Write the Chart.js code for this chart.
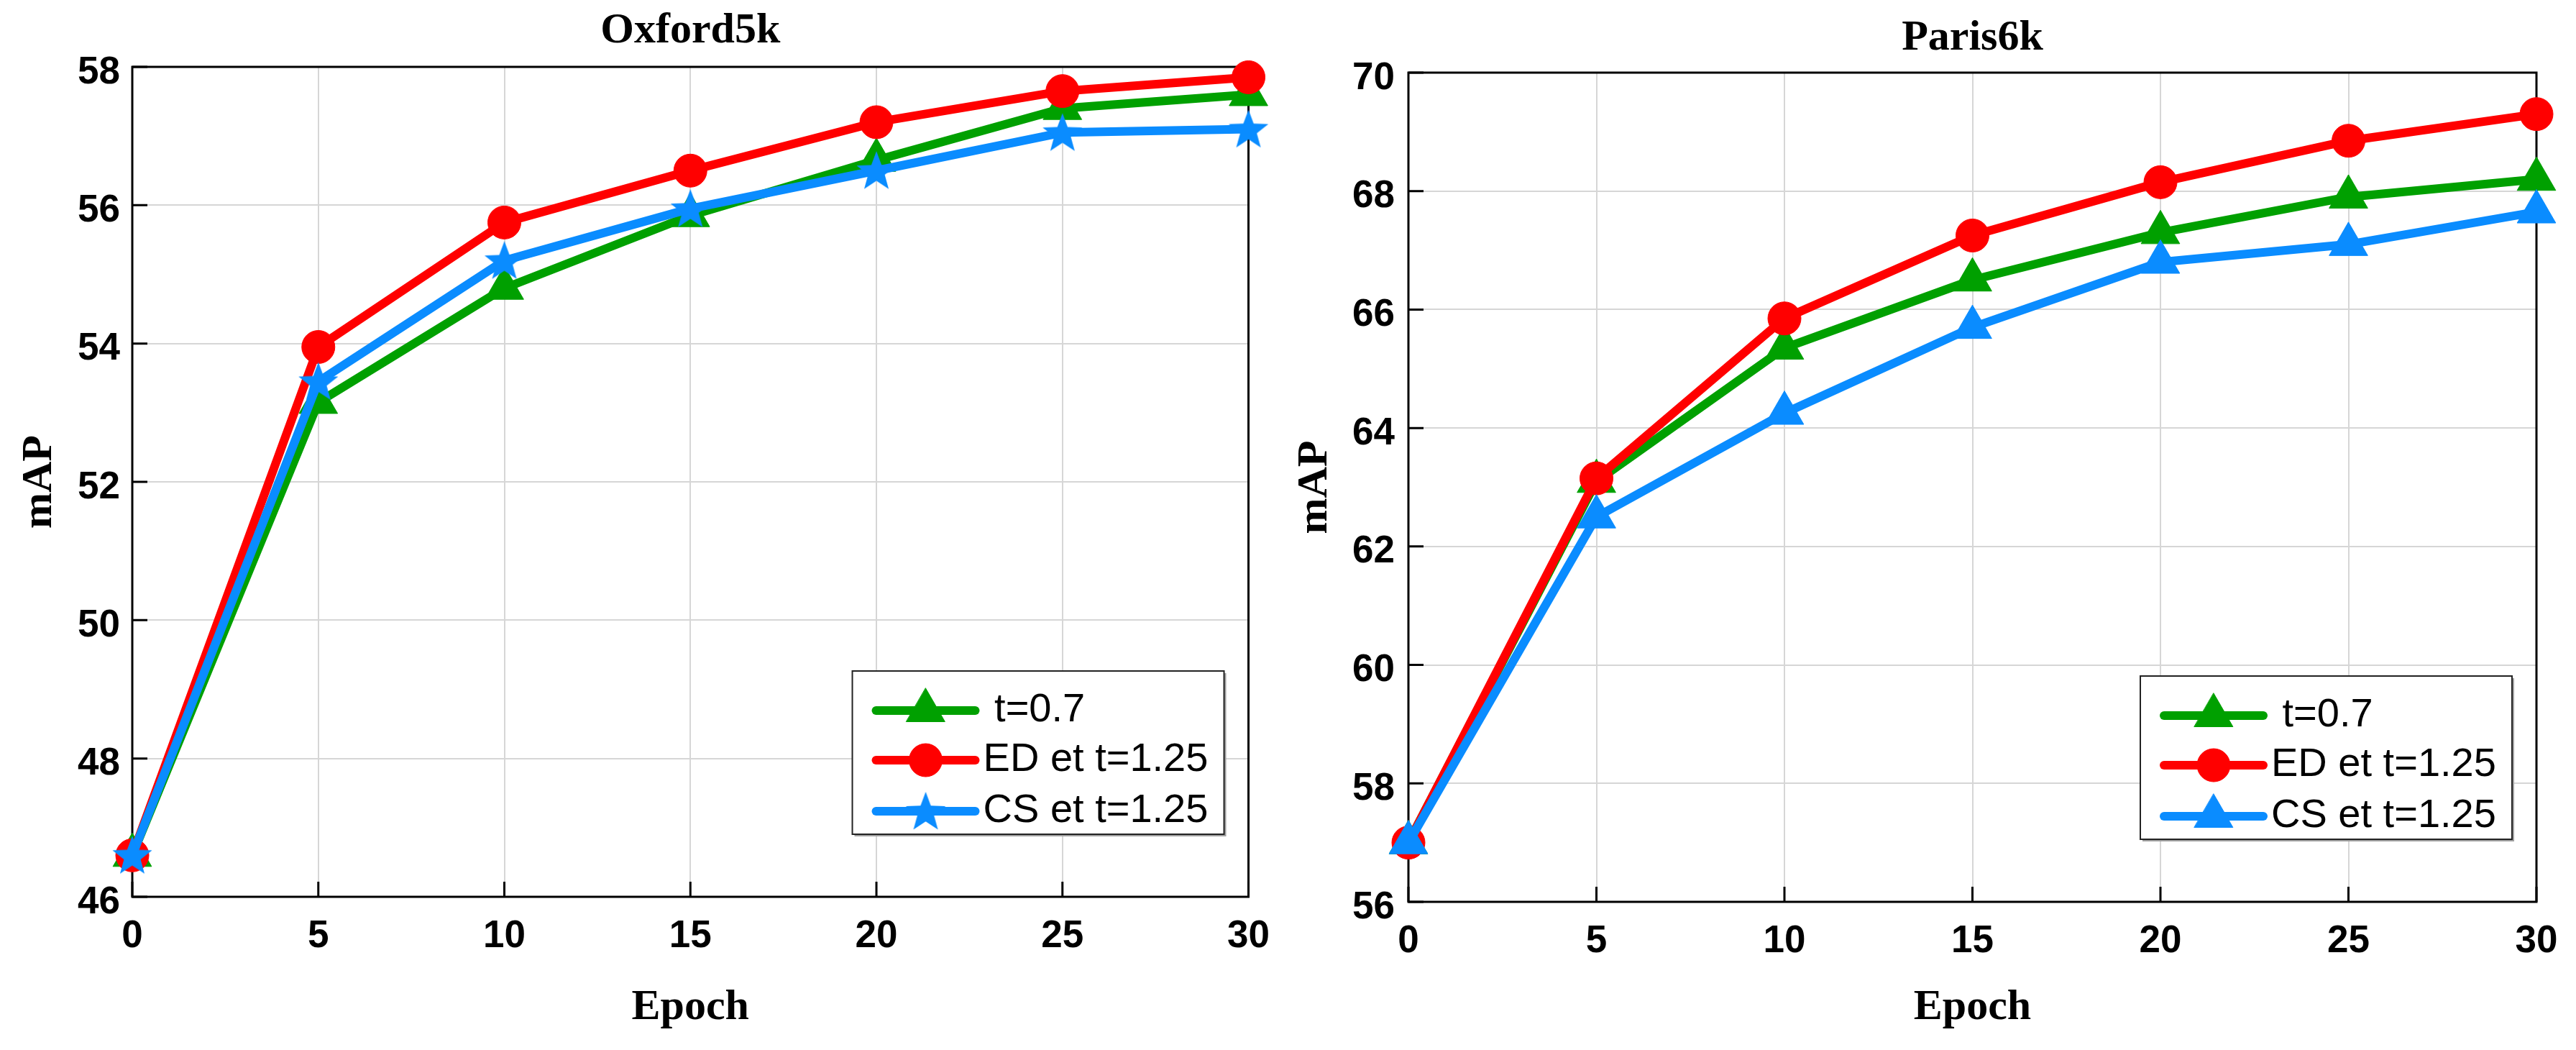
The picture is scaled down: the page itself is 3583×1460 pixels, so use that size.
<!DOCTYPE html>
<html>
<head>
<meta charset="utf-8">
<script src="https://cdn.jsdelivr.net/npm/chart.js@4.4.1/dist/chart.umd.min.js"></script>
<style>
html, body { margin: 0; padding: 0; background: #fff; }
#wrap { position: relative; width: 3583px; height: 1460px; overflow: hidden; background: #fff; }
canvas { position: absolute; top: 0; }
#oxford { left: 0; }
#paris { left: 1790px; }
</style>
</head>
<body>
<div id="wrap">
  <canvas id="oxford" width="1790" height="1460"></canvas>
  <canvas id="paris" width="1793" height="1460"></canvas>
</div>
<script>
// values
const epochs = [0, 5, 10, 15, 20, 25, 30];
const seriesNames = [' t=0.7', 'ED et t=1.25', 'CS et t=1.25'];

const oxfordT07 = [46.6, 53.15, 54.8, 55.85, 56.65, 57.4, 57.6];
const oxfordED  = [46.6, 53.95, 55.75, 56.5, 57.2, 57.65, 57.85];
const oxfordCS  = [46.6, 53.45, 55.2, 55.95, 56.5, 57.05, 57.1];

const parisT07 = [57.0, 63.1, 65.35, 66.5, 67.3, 67.9, 68.2];
const parisED  = [57.0, 63.15, 65.85, 67.25, 68.15, 68.85, 69.3];
const parisCS  = [57.0, 62.5, 64.25, 65.7, 66.8, 67.1, 67.65];

const GREEN = '#00a000';
const RED = '#ff0000';
const BLUE = '#0a8cff';

Chart.defaults.font.family = '"Liberation Sans", Arial, sans-serif';
Chart.defaults.color = '#000';

// filled five point star, used as a point style
function makeStar(color, outer) {
  const c = document.createElement('canvas');
  const size = Math.ceil(outer * 2 + 4);
  c.width = size;
  c.height = size;
  const g = c.getContext('2d');
  const cx = size / 2, cy = size / 2 + 2, inner = outer * 0.42;
  g.beginPath();
  for (let i = 0; i < 10; i++) {
    const r = i % 2 ? inner : outer;
    const a = -Math.PI / 2 + i * Math.PI / 5;
    g.lineTo(cx + r * Math.cos(a), cy + r * Math.sin(a));
  }
  g.closePath();
  g.fillStyle = color;
  g.fill();
  return c;
}

function series(label, values, color, style, radius, order) {
  return {
    label: label,
    order: order,
    data: epochs.map((e, i) => ({ x: e, y: values[i] })),
    borderColor: color,
    backgroundColor: color,
    borderWidth: 12,
    borderJoinStyle: 'round',
    borderCapStyle: 'round',
    pointStyle: style,
    pointRadius: radius,
    pointHoverRadius: radius,
    pointBorderWidth: 1,
    pointBorderColor: color,
    pointBackgroundColor: color,
    tension: 0,
    clip: false
  };
}

// black box round the plot, with the small inner ticks
const framePlugin = {
  id: 'frame',
  beforeDatasetsDraw(chart) {
    const { ctx, chartArea: a, scales: { x, y } } = chart;
    ctx.save();
    ctx.strokeStyle = '#000';
    ctx.lineWidth = 3;
    ctx.strokeRect(a.left, a.top, a.right - a.left, a.bottom - a.top);
    ctx.beginPath();
    x.ticks.forEach(t => {
      const px = x.getPixelForValue(t.value);
      ctx.moveTo(px, a.bottom);
      ctx.lineTo(px, a.bottom - 21);
    });
    y.ticks.forEach(t => {
      const py = y.getPixelForValue(t.value);
      ctx.moveTo(a.left, py);
      ctx.lineTo(a.left + 21, py);
    });
    ctx.stroke();
    ctx.restore();
  }
};

// boxed legend in the lower right corner of the plot
const boxLegend = {
  id: 'boxLegend',
  afterDraw(chart) {
    const { ctx, chartArea: a } = chart;
    const w = 517, h = 227;
    const left = a.right - 34 - w;
    const top = a.bottom - 87 - h;
    ctx.save();
    ctx.fillStyle = '#a0a0a0';
    ctx.fillRect(left + 3, top + 3, w, h);
    ctx.fillStyle = '#fff';
    ctx.fillRect(left, top, w, h);
    ctx.strokeStyle = '#222';
    ctx.lineWidth = 2;
    ctx.strokeRect(left, top, w, h);

    const rows = [55, 124, 195];
    chart.data.datasets.forEach((ds, i) => {
      const cy = top + rows[i];
      ctx.strokeStyle = ds.borderColor;
      ctx.lineWidth = 12;
      ctx.lineCap = 'round';
      ctx.beginPath();
      ctx.moveTo(left + 33, cy);
      ctx.lineTo(left + 171, cy);
      ctx.stroke();

      ctx.fillStyle = ds.pointBackgroundColor;
      ctx.strokeStyle = ds.pointBorderColor;
      ctx.lineWidth = 1;
      Chart.helpers.drawPoint(ctx, {
        pointStyle: ds.pointStyle,
        radius: ds.pointRadius,
        borderWidth: 1,
        rotation: 0
      }, left + 102, cy);

      ctx.fillStyle = '#000';
      ctx.font = '56px "Liberation Sans", Arial, sans-serif';
      ctx.textAlign = 'left';
      ctx.textBaseline = 'middle';
      ctx.fillText(ds.label, left + 182, cy);
    });
    ctx.restore();
  }
};

const tickFont = { family: '"Liberation Sans", Arial, sans-serif', size: 53, weight: 'bold' };
const titleFont = { family: '"Liberation Serif", "Times New Roman", serif', size: 60, weight: 'bold' };

function makeChart(id, title, datasets, yMin, yMax, box) {
  return new Chart(document.getElementById(id), {
    type: 'line',
    data: { datasets: datasets },
    options: {
      responsive: false,
      animation: false,
      devicePixelRatio: 1,
      layout: { padding: { left: 0, right: box.padRight, top: 0, bottom: 0 } },
      plugins: {
        legend: { display: false },
        tooltip: { enabled: false },
        title: {
          display: true,
          text: title,
          color: '#000',
          font: titleFont,
          fullSize: false,
          padding: { top: box.titleTop, bottom: box.titleBottom }
        }
      },
      scales: {
        x: {
          type: 'linear',
          min: 0,
          max: 30,
          ticks: { stepSize: 5, padding: 24, maxRotation: 0, color: '#000', font: tickFont },
          grid: { color: '#d6d6d6', lineWidth: 2, drawTicks: false },
          border: { display: false },
          title: {
            display: true,
            text: 'Epoch',
            color: '#000',
            font: titleFont,
            padding: { top: 0, bottom: 23 }
          },
          afterFit: s => { s.height = box.xHeight; }
        },
        y: {
          min: yMin,
          max: yMax,
          ticks: { stepSize: 2, padding: box.yPad, labelOffset: 8, color: '#000', font: tickFont },
          grid: { color: '#d6d6d6', lineWidth: 2, drawTicks: false },
          border: { display: false },
          title: {
            display: true,
            text: 'mAP',
            color: '#000',
            font: titleFont,
            padding: { top: box.yTitlePad, bottom: 0 }
          },
          afterFit: s => { s.width = box.yWidth; }
        }
      }
    },
    plugins: [framePlugin, boxLegend]
  });
}

const star = makeStar(BLUE, 29);

makeChart('oxford', 'Oxford5k', [
  series(seriesNames[0], oxfordT07, GREEN, 'triangle', 31, 2),
  series(seriesNames[1], oxfordED, RED, 'circle', 23, 1),
  series(seriesNames[2], oxfordCS, BLUE, star, 26, 0)
], 46, 58, {
  padRight: 38, titleTop: 7, titleBottom: 14,
  xHeight: 1460 - 1247, yWidth: 184, yPad: 17, yTitlePad: 19
});

makeChart('paris', 'Paris6k', [
  series(seriesNames[0], parisT07, GREEN, 'triangle', 31, 2),
  series(seriesNames[1], parisED, RED, 'circle', 23, 1),
  series(seriesNames[2], parisCS, BLUE, 'triangle', 31, 0)
], 56, 70, {
  padRight: 55, titleTop: 17, titleBottom: 12,
  xHeight: 1460 - 1254, yWidth: 169, yPad: 19, yTitlePad: 3
});
</script>
</body>
</html>
